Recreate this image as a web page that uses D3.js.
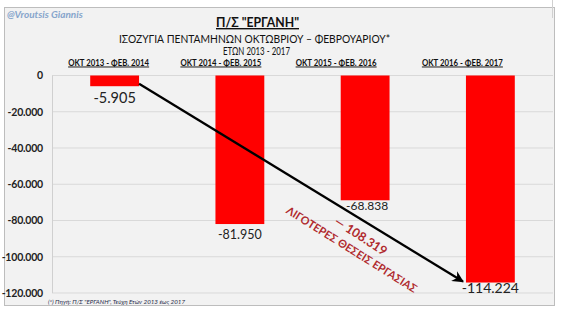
<!DOCTYPE html>
<html><head><meta charset="utf-8">
<script src="https://cdn.jsdelivr.net/npm/d3@7"></script>
<style>body{margin:0;background:#fff}svg{display:block}text{font-family:Lato,"Open Sans",sans-serif}</style>
</head><body><svg id="c" width="562" height="310"></svg>
<script>
const categories = ["ΟΚΤ 2013 - ΦΕΒ. 2014","ΟΚΤ 2014 - ΦΕΒ. 2015","ΟΚΤ 2015 - ΦΕΒ. 2016","ΟΚΤ 2016 - ΦΕΒ. 2017"];
const values = [-5905, -81950, -68838, -114224];
const valueLabels = ["-5.905","-81.950","-68.838","-114.224"];
const yTicks = [0,-20000,-40000,-60000,-80000,-100000,-120000];
const yTickLabels = ["0","-20.000","-40.000","-60.000","-80.000","-100.000","-120.000"];
const diffLabel = "— 108.319";
const noteLabel = "ΛΙΓΟΤΕΡΕΣ ΘΕΣΕΙΣ ΕΡΓΑΣΙΑΣ";

const svg = d3.select("#c");
svg.append("rect").attr("x",4.5).attr("y",7.5).attr("width",550).attr("height",298)
  .attr("fill","#f2f2f2").attr("stroke","#bdbdbd");
svg.append("line").attr("x1",552.5).attr("x2",552.5).attr("y1",0).attr("y2",18).attr("stroke","#d0d0d0");

const x = d3.scaleBand().domain(categories).range([52,553]).paddingInner(0.61).paddingOuter(0.305);
const y = d3.scaleLinear().domain([0,-120000]).range([75.5,293]);

svg.append("g").selectAll("line").data(yTicks).join("line")
  .attr("x1",52).attr("x2",553).attr("y1",d=>y(d)).attr("y2",d=>y(d))
  .attr("stroke","#d9d9d9").attr("stroke-width",1);
svg.append("line").attr("x1",52.5).attr("x2",52.5).attr("y1",y(0)).attr("y2",y(-120000)).attr("stroke","#d0d0d0");

const yAxis = d3.axisLeft(y).tickValues(yTicks).tickSize(0).tickPadding(9)
  .tickFormat((d,i)=>yTickLabels[i]);
const ga = svg.append("g").attr("transform","translate(52,0)").call(yAxis);
ga.select(".domain").remove();
ga.selectAll("text").attr("font-size",10.5).attr("font-weight","bold").attr("fill","#222")
  .attr("font-family","Lato,'Open Sans',sans-serif").attr("letter-spacing",-0.2);

svg.append("g").selectAll("rect").data(values).join("rect")
  .attr("x",(d,i)=>x(categories[i])).attr("width",x.bandwidth())
  .attr("y",y(0)).attr("height",d=>y(d)-y(0)).attr("fill","#ff0000");

const vlSize = [14.5,12.5,12,14];
const vlDy = [17,15,9.5,10];
svg.append("g").selectAll("text").data(values).join("text")
  .attr("x",(d,i)=>x(categories[i])+x.bandwidth()/2 + (i===2?2:0))
  .attr("y",(d,i)=>y(d)+vlDy[i]).attr("text-anchor","middle")
  .attr("font-size",(d,i)=>vlSize[i]).attr("fill","#222")
  .text((d,i)=>valueLabels[i]);

svg.append("text").attr("x",7).attr("y",18).attr("font-size",10).attr("font-style","italic")
  .attr("font-weight","bold").attr("fill","#86a5cc").text("@Vroutsis Giannis");
svg.append("text").attr("x",216).attr("y",27).attr("font-size",14)
  .attr("textLength",83).attr("lengthAdjust","spacingAndGlyphs")
  .attr("font-weight","bold").attr("text-decoration","underline").attr("fill","#111").text('Π/Σ "ΕΡΓΑΝΗ"');
svg.append("text").attr("x",119).attr("y",42.5).attr("font-size",11.5)
  .attr("textLength",271).attr("lengthAdjust","spacingAndGlyphs").attr("fill","#111")
  .text("ΙΣΟΖΥΓΙΑ ΠΕΝΤΑΜΗΝΩΝ ΟΚΤΩΒΡΙΟΥ –  ΦΕΒΡΟΥΑΡΙΟΥ*");
svg.append("text").attr("x",223).attr("y",54.5).attr("font-size",11.5)
  .attr("textLength",67).attr("lengthAdjust","spacingAndGlyphs")
  .attr("fill","#111").text("ΕΤΩΝ 2013 - 2017");

const catOffset = [-6,-19,-29,-28];
svg.append("g").selectAll("text").data(categories).join("text")
  .attr("x",(d,i)=>x(d)+x.bandwidth()/2+catOffset[i]-40.5).attr("y",65.5)
  .attr("textLength",81).attr("lengthAdjust","spacingAndGlyphs")
  .attr("font-size",9.5).attr("font-weight","bold").attr("text-decoration","underline").attr("fill","#111")
  .text(d=>d);

svg.append("defs").append("marker").attr("id","ah").attr("viewBox","0 0 10 10").attr("refX",9).attr("refY",5)
  .attr("markerWidth",5).attr("markerHeight",5).attr("orient","auto").attr("markerUnits","strokeWidth")
  .append("path").attr("d","M0,0 L10,5 L0,10 L3,5 Z").attr("fill","#000");
svg.append("line")
  .attr("x1",x(categories[0])+x.bandwidth()).attr("y1",y(values[0])-2.5)
  .attr("x2",x(categories[3])-3).attr("y2",y(values[3])-1)
  .attr("stroke","#000").attr("stroke-width",2.3).attr("marker-end","url(#ah)");

svg.append("text").attr("transform","translate(361,236) rotate(33)").attr("text-anchor","middle")
  .attr("dominant-baseline","central").attr("font-size",12.5).attr("font-weight","bold").attr("fill","#b02a2e")
  .text(diffLabel);
svg.append("text").attr("transform","translate(352,249) rotate(32)").attr("text-anchor","middle")
  .attr("dominant-baseline","central").attr("font-size",11).attr("font-weight","bold").attr("fill","#b02a2e")
  .text(noteLabel);

svg.append("text").attr("x",48).attr("y",304).attr("font-size",5.5).attr("font-style","italic")
  .attr("textLength",137).attr("lengthAdjust","spacingAndGlyphs")
  .attr("fill","#1f2a4a").text('(*) Πηγή: Π/Σ "ΕΡΓΑΝΗ", Τεύχη Ετών  2013 έως 2017');
</script></body></html>
